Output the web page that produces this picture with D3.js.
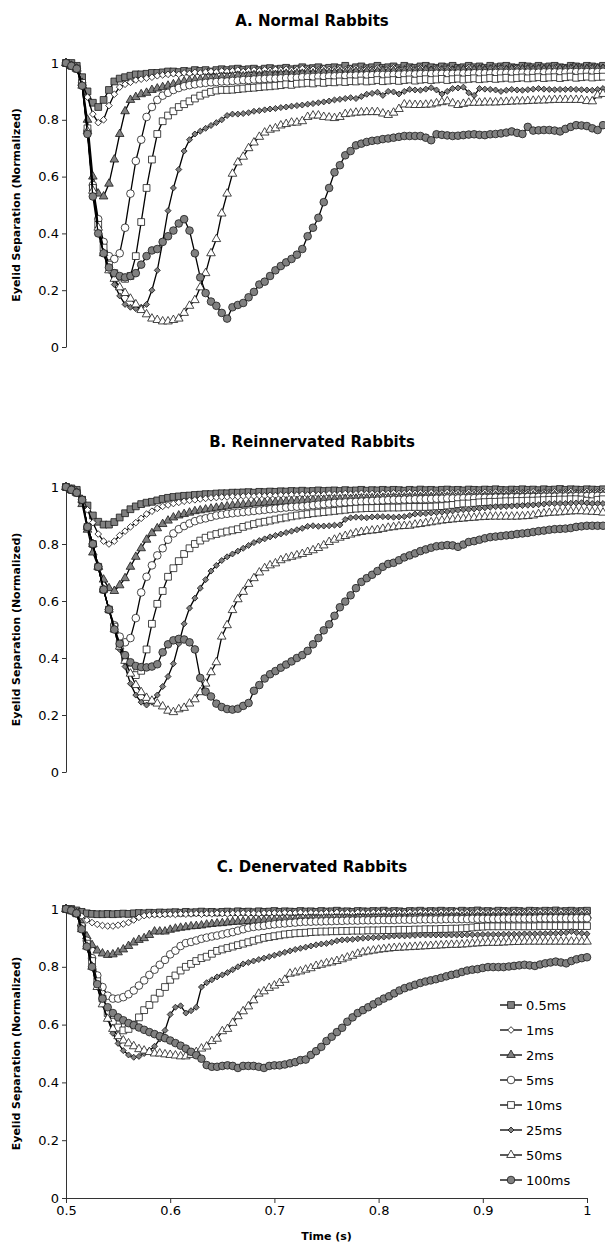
<!DOCTYPE html>
<html>
<head>
<meta charset="utf-8">
<script src="https://cdn.jsdelivr.net/npm/d3@7"></script>
<style>
  body { margin: 0; background: #fff; }
  text { font-family: Verdana, "DejaVu Sans", sans-serif; fill: #000; }
</style>
</head>
<body>
<div id="viz"></div>
<script>
// Chart size
const width = 605;
const height = 1251;

// Sampling: 0.5 s to 1.0 s, one point every 5 ms
const t0 = 0.5, dt = 0.005, nPts = 101;
const times = d3.range(nPts).map(i => t0 + i * dt);

const seriesNames = ["0.5ms", "1ms", "2ms", "5ms", "10ms", "25ms", "50ms", "100ms"];
const yTicks = [0, 0.2, 0.4, 0.6, 0.8, 1];
const xTicks = [0.5, 0.6, 0.7, 0.8, 0.9, 1];

// ---------- A. Normal Rabbits ----------
const a05 = [1.00,1.00,0.99,0.95,0.90,0.86,0.845,0.87,0.905,0.935,
  0.945,0.95,0.955,0.96,0.96,0.962,0.965,0.965,0.967,0.97,
  0.97,0.968,0.972,0.97,0.975,0.972,0.975,0.97,0.975,0.978,
  0.975,0.978,0.98,0.976,0.978,0.98,0.975,0.98,0.982,0.978,
  0.98,0.983,0.978,0.98,0.985,0.98,0.982,0.985,0.98,0.983,
  0.985,0.982,0.99,0.98,0.985,0.988,0.982,0.985,0.99,0.983,
  0.985,0.988,0.982,0.99,0.985,0.983,0.988,0.99,0.985,0.983,
  0.988,0.985,0.99,0.983,0.985,0.99,0.985,0.988,0.983,0.99,
  0.985,0.988,0.99,0.985,0.983,0.99,0.988,0.985,0.99,0.985,
  0.988,0.99,0.985,0.983,0.99,0.988,0.985,0.99,0.988,0.985,
  0.99];
const a1 = [1.00,0.99,0.98,0.93,0.88,0.82,0.79,0.80,0.85,0.89,
  0.915,0.925,0.932,0.94,0.943,0.947,0.95,0.955,0.958,0.96,
  0.962,0.96,0.965,0.963,0.967,0.965,0.968,0.97,0.968,0.972,
  0.97,0.972,0.975,0.97,0.973,0.975,0.972,0.976,0.974,0.977,
  0.975,0.978,0.974,0.977,0.98,0.976,0.978,0.975,0.98,0.977,
  0.978,0.98,0.976,0.979,0.982,0.977,0.98,0.978,0.982,0.979,
  0.98,0.983,0.978,0.98,0.982,0.979,0.983,0.98,0.978,0.982,
  0.98,0.983,0.979,0.982,0.98,0.984,0.98,0.982,0.979,0.983,
  0.981,0.984,0.98,0.982,0.985,0.98,0.983,0.981,0.984,0.98,
  0.983,0.985,0.98,0.982,0.985,0.981,0.984,0.982,0.985,0.983,
  0.985];
const a2 = [1.00,0.99,0.98,0.93,0.80,0.60,0.54,0.53,0.575,0.66,
  0.75,0.83,0.87,0.88,0.89,0.895,0.905,0.91,0.915,0.92,
  0.925,0.93,0.935,0.938,0.94,0.942,0.945,0.945,0.948,0.95,
  0.95,0.952,0.955,0.953,0.955,0.957,0.955,0.958,0.96,0.958,
  0.96,0.962,0.96,0.963,0.962,0.965,0.963,0.965,0.967,0.965,
  0.966,0.968,0.965,0.968,0.97,0.967,0.97,0.968,0.97,0.972,
  0.97,0.972,0.969,0.972,0.973,0.97,0.973,0.975,0.972,0.974,
  0.973,0.975,0.972,0.975,0.976,0.973,0.975,0.977,0.974,0.976,
  0.975,0.977,0.975,0.978,0.976,0.978,0.977,0.975,0.978,0.977,
  0.978,0.976,0.979,0.977,0.978,0.98,0.977,0.979,0.978,0.98,
  0.979];
const a5 = [1.00,0.99,0.98,0.93,0.76,0.57,0.45,0.37,0.32,0.31,
  0.33,0.42,0.54,0.655,0.73,0.81,0.845,0.87,0.885,0.895,
  0.905,0.912,0.918,0.922,0.925,0.928,0.93,0.932,0.933,0.935,
  0.935,0.937,0.938,0.94,0.94,0.942,0.943,0.944,0.945,0.945,
  0.946,0.947,0.948,0.948,0.95,0.95,0.951,0.952,0.952,0.953,
  0.953,0.954,0.955,0.955,0.956,0.956,0.957,0.957,0.958,0.958,
  0.958,0.959,0.959,0.96,0.96,0.96,0.961,0.961,0.961,0.962,
  0.962,0.962,0.962,0.963,0.963,0.963,0.964,0.964,0.964,0.964,
  0.965,0.965,0.965,0.965,0.966,0.966,0.966,0.966,0.966,0.967,
  0.967,0.967,0.967,0.967,0.968,0.968,0.968,0.968,0.968,0.968,
  0.969];
const a10 = [1.00,0.99,0.98,0.93,0.77,0.56,0.43,0.35,0.29,0.26,
  0.245,0.24,0.25,0.32,0.44,0.56,0.66,0.75,0.795,0.815,
  0.83,0.845,0.855,0.865,0.875,0.885,0.892,0.898,0.903,0.905,
  0.905,0.906,0.908,0.91,0.912,0.913,0.915,0.917,0.918,0.92,
  0.922,0.925,0.923,0.927,0.928,0.93,0.928,0.932,0.93,0.933,
  0.932,0.935,0.933,0.936,0.935,0.938,0.935,0.937,0.94,0.936,
  0.938,0.94,0.937,0.94,0.942,0.938,0.941,0.943,0.94,0.942,
  0.944,0.94,0.943,0.945,0.942,0.944,0.946,0.943,0.945,0.947,
  0.944,0.946,0.948,0.945,0.947,0.949,0.946,0.948,0.95,0.947,
  0.949,0.95,0.947,0.95,0.952,0.948,0.95,0.952,0.949,0.951,
  0.952];
const a25 = [1.00,0.99,0.98,0.92,0.76,0.55,0.42,0.33,0.27,0.22,
  0.18,0.15,0.14,0.135,0.14,0.15,0.20,0.27,0.37,0.48,
  0.56,0.625,0.69,0.73,0.75,0.76,0.77,0.78,0.79,0.80,
  0.815,0.82,0.82,0.822,0.825,0.83,0.832,0.835,0.838,0.84,
  0.843,0.845,0.848,0.85,0.852,0.855,0.857,0.86,0.863,0.866,
  0.87,0.872,0.875,0.878,0.875,0.882,0.89,0.893,0.897,0.886,
  0.90,0.898,0.891,0.90,0.907,0.905,0.904,0.908,0.913,0.905,
  0.891,0.90,0.91,0.912,0.915,0.895,0.886,0.91,0.908,0.907,
  0.905,0.90,0.904,0.907,0.905,0.904,0.906,0.908,0.91,0.908,
  0.907,0.906,0.907,0.907,0.908,0.907,0.906,0.905,0.904,0.907,
  0.91];
const a50 = [1.00,0.99,0.98,0.92,0.76,0.55,0.42,0.33,0.27,0.24,
  0.21,0.19,0.17,0.15,0.13,0.115,0.10,0.095,0.09,0.09,
  0.095,0.10,0.12,0.145,0.165,0.21,0.26,0.33,0.38,0.47,
  0.54,0.61,0.65,0.67,0.70,0.72,0.74,0.755,0.765,0.77,
  0.78,0.785,0.79,0.79,0.795,0.81,0.815,0.815,0.81,0.808,
  0.806,0.81,0.82,0.822,0.825,0.826,0.827,0.827,0.827,0.822,
  0.817,0.825,0.838,0.854,0.853,0.852,0.852,0.853,0.854,0.858,
  0.862,0.865,0.858,0.852,0.856,0.86,0.86,0.86,0.861,0.861,
  0.861,0.862,0.863,0.864,0.865,0.865,0.866,0.867,0.868,0.868,
  0.869,0.87,0.87,0.87,0.87,0.87,0.87,0.866,0.865,0.886,
  0.891];
const a100 = [1.00,0.99,0.98,0.92,0.75,0.53,0.40,0.33,0.28,0.26,
  0.25,0.245,0.25,0.26,0.29,0.32,0.34,0.345,0.37,0.39,
  0.41,0.435,0.45,0.41,0.33,0.245,0.19,0.16,0.145,0.12,
  0.10,0.14,0.148,0.155,0.175,0.194,0.22,0.23,0.25,0.27,
  0.285,0.298,0.31,0.325,0.345,0.39,0.42,0.455,0.51,0.56,
  0.615,0.64,0.675,0.69,0.71,0.716,0.722,0.726,0.728,0.732,
  0.734,0.737,0.74,0.743,0.743,0.743,0.743,0.737,0.728,0.749,
  0.747,0.745,0.743,0.744,0.746,0.748,0.749,0.747,0.746,0.749,
  0.75,0.752,0.755,0.759,0.754,0.75,0.775,0.762,0.763,0.764,
  0.764,0.762,0.759,0.768,0.775,0.781,0.78,0.778,0.77,0.764,
  0.781];

// ---------- B. Reinnervated Rabbits ----------
const b05 = [1.00,0.995,0.99,0.955,0.935,0.90,0.878,0.868,0.868,0.877,
  0.893,0.908,0.922,0.932,0.94,0.945,0.948,0.953,0.958,0.962,
  0.965,0.967,0.969,0.97,0.972,0.973,0.975,0.975,0.977,0.978,
  0.978,0.98,0.98,0.981,0.982,0.98,0.983,0.982,0.984,0.983,
  0.985,0.984,0.986,0.985,0.987,0.985,0.986,0.988,0.986,0.987,
  0.988,0.986,0.989,0.987,0.988,0.99,0.987,0.989,0.988,0.99,
  0.988,0.99,0.989,0.987,0.99,0.988,0.991,0.989,0.99,0.988,
  0.99,0.991,0.989,0.99,0.988,0.991,0.99,0.989,0.991,0.99,
  0.992,0.99,0.989,0.991,0.99,0.992,0.99,0.991,0.989,0.992,
  0.99,0.991,0.993,0.99,0.992,0.991,0.99,0.992,0.991,0.99,
  0.992];
const b1 = [1.00,0.99,0.98,0.96,0.92,0.875,0.835,0.81,0.80,0.81,
  0.83,0.845,0.86,0.875,0.89,0.905,0.915,0.925,0.932,0.937,
  0.942,0.946,0.95,0.953,0.955,0.958,0.96,0.962,0.963,0.965,
  0.965,0.967,0.966,0.968,0.969,0.968,0.97,0.969,0.971,0.97,
  0.972,0.971,0.973,0.972,0.974,0.972,0.975,0.973,0.974,0.976,
  0.974,0.975,0.977,0.975,0.976,0.978,0.976,0.977,0.975,0.978,
  0.977,0.979,0.977,0.978,0.98,0.978,0.979,0.977,0.98,0.978,
  0.979,0.981,0.979,0.98,0.978,0.981,0.98,0.979,0.981,0.98,
  0.982,0.98,0.981,0.979,0.982,0.98,0.981,0.983,0.98,0.982,
  0.981,0.983,0.98,0.982,0.984,0.981,0.982,0.984,0.982,0.983,
  0.984];
const b2 = [1.00,0.99,0.98,0.94,0.85,0.77,0.72,0.675,0.645,0.635,
  0.655,0.68,0.72,0.755,0.785,0.815,0.838,0.855,0.87,0.882,
  0.893,0.90,0.905,0.91,0.915,0.918,0.921,0.924,0.927,0.93,
  0.932,0.935,0.937,0.938,0.94,0.942,0.943,0.945,0.946,0.947,
  0.948,0.949,0.95,0.951,0.952,0.953,0.954,0.955,0.955,0.956,
  0.957,0.957,0.958,0.958,0.959,0.96,0.96,0.961,0.961,0.962,
  0.962,0.963,0.963,0.963,0.964,0.964,0.965,0.965,0.965,0.966,
  0.966,0.966,0.967,0.967,0.967,0.968,0.968,0.968,0.968,0.969,
  0.969,0.969,0.969,0.97,0.97,0.97,0.97,0.97,0.971,0.971,
  0.971,0.971,0.971,0.972,0.972,0.972,0.972,0.972,0.972,0.973,
  0.973];
const b5 = [1.00,0.99,0.98,0.955,0.86,0.80,0.72,0.64,0.57,0.515,
  0.475,0.455,0.47,0.54,0.63,0.685,0.725,0.76,0.785,0.815,
  0.837,0.852,0.863,0.872,0.88,0.886,0.89,0.895,0.90,0.903,
  0.906,0.908,0.91,0.912,0.914,0.916,0.918,0.92,0.922,0.924,
  0.926,0.928,0.93,0.931,0.932,0.934,0.936,0.938,0.94,0.942,
  0.944,0.945,0.946,0.947,0.948,0.949,0.95,0.951,0.952,0.953,
  0.954,0.955,0.955,0.956,0.956,0.957,0.957,0.958,0.958,0.959,
  0.959,0.96,0.96,0.96,0.961,0.961,0.961,0.962,0.962,0.962,
  0.963,0.963,0.963,0.964,0.964,0.964,0.965,0.965,0.965,0.966,
  0.966,0.966,0.967,0.967,0.967,0.968,0.968,0.968,0.969,0.969,
  0.969];
const b10 = [1.00,0.99,0.98,0.955,0.86,0.80,0.72,0.64,0.57,0.51,
  0.45,0.40,0.36,0.34,0.355,0.43,0.52,0.59,0.635,0.685,
  0.715,0.74,0.765,0.785,0.80,0.812,0.822,0.83,0.835,0.84,
  0.844,0.848,0.852,0.86,0.865,0.87,0.875,0.878,0.882,0.886,
  0.89,0.893,0.897,0.90,0.903,0.905,0.908,0.91,0.912,0.914,
  0.916,0.918,0.92,0.922,0.924,0.925,0.926,0.926,0.927,0.927,
  0.928,0.928,0.928,0.929,0.93,0.93,0.93,0.93,0.931,0.932,
  0.933,0.935,0.937,0.94,0.942,0.942,0.944,0.946,0.947,0.948,
  0.948,0.949,0.95,0.95,0.951,0.951,0.952,0.952,0.953,0.954,
  0.955,0.955,0.956,0.956,0.957,0.957,0.956,0.952,0.95,0.955,
  0.957];
const b25 = [1.00,0.99,0.98,0.955,0.86,0.80,0.72,0.64,0.57,0.50,
  0.43,0.37,0.31,0.27,0.245,0.235,0.245,0.27,0.30,0.335,
  0.38,0.45,0.52,0.575,0.61,0.645,0.675,0.705,0.725,0.742,
  0.755,0.765,0.775,0.785,0.795,0.805,0.812,0.818,0.825,0.83,
  0.835,0.84,0.845,0.85,0.855,0.862,0.864,0.862,0.863,0.864,
  0.866,0.867,0.886,0.892,0.894,0.893,0.892,0.895,0.896,0.896,
  0.895,0.894,0.895,0.896,0.90,0.905,0.906,0.907,0.909,0.91,
  0.912,0.913,0.916,0.918,0.92,0.921,0.923,0.925,0.927,0.929,
  0.931,0.931,0.932,0.933,0.934,0.935,0.936,0.937,0.938,0.94,
  0.942,0.942,0.942,0.942,0.943,0.944,0.945,0.944,0.942,0.942,
  0.942];
const b50 = [1.00,0.99,0.98,0.955,0.86,0.80,0.72,0.64,0.57,0.50,
  0.44,0.39,0.345,0.305,0.28,0.26,0.25,0.24,0.23,0.215,
  0.21,0.22,0.225,0.24,0.255,0.28,0.31,0.35,0.385,0.475,
  0.515,0.568,0.606,0.632,0.66,0.68,0.70,0.715,0.725,0.732,
  0.743,0.75,0.755,0.76,0.765,0.772,0.778,0.786,0.795,0.807,
  0.815,0.822,0.828,0.833,0.838,0.842,0.845,0.847,0.849,0.853,
  0.857,0.859,0.862,0.863,0.864,0.868,0.87,0.873,0.876,0.879,
  0.882,0.884,0.886,0.888,0.889,0.891,0.892,0.894,0.895,0.896,
  0.896,0.896,0.896,0.896,0.896,0.897,0.898,0.90,0.905,0.907,
  0.909,0.91,0.911,0.913,0.914,0.915,0.915,0.914,0.913,0.912,
  0.91];
const b100 = [1.00,0.99,0.98,0.955,0.86,0.80,0.72,0.64,0.57,0.50,
  0.45,0.41,0.385,0.372,0.368,0.367,0.37,0.378,0.42,0.448,
  0.462,0.467,0.465,0.455,0.43,0.33,0.282,0.265,0.24,0.228,
  0.221,0.219,0.222,0.232,0.242,0.285,0.305,0.328,0.343,0.354,
  0.366,0.377,0.388,0.40,0.41,0.425,0.448,0.47,0.497,0.518,
  0.548,0.578,0.598,0.62,0.645,0.667,0.68,0.692,0.705,0.72,
  0.73,0.734,0.743,0.753,0.76,0.767,0.775,0.781,0.787,0.792,
  0.794,0.796,0.795,0.79,0.798,0.807,0.81,0.815,0.82,0.824,
  0.826,0.828,0.83,0.832,0.835,0.837,0.839,0.842,0.845,0.847,
  0.85,0.852,0.853,0.854,0.856,0.86,0.862,0.864,0.864,0.864,
  0.864];

// ---------- C. Denervated Rabbits ----------
const c05 = [1.00,1.00,0.995,0.99,0.985,0.983,0.982,0.982,0.983,0.982,
  0.983,0.984,0.983,0.985,0.986,0.985,0.987,0.986,0.988,0.987,
  0.988,0.989,0.987,0.99,0.988,0.989,0.991,0.989,0.99,0.988,
  0.99,0.991,0.989,0.992,0.99,0.991,0.989,0.992,0.99,0.991,
  0.993,0.99,0.992,0.991,0.99,0.993,0.991,0.992,0.99,0.993,
  0.991,0.992,0.994,0.991,0.992,0.99,0.993,0.992,0.991,0.993,
  0.992,0.994,0.991,0.993,0.992,0.99,0.993,0.992,0.994,0.991,
  0.993,0.992,0.994,0.992,0.993,0.991,0.994,0.992,0.993,0.995,
  0.992,0.993,0.991,0.994,0.993,0.992,0.994,0.993,0.991,0.994,
  0.993,0.992,0.994,0.993,0.995,0.992,0.993,0.994,0.992,0.993,
  0.994];
const c1 = [1.00,0.995,0.99,0.975,0.962,0.953,0.947,0.943,0.941,0.941,
  0.944,0.948,0.953,0.962,0.971,0.977,0.979,0.98,0.98,0.981,
  0.982,0.981,0.983,0.982,0.983,0.984,0.982,0.984,0.983,0.985,
  0.984,0.983,0.985,0.984,0.986,0.984,0.985,0.983,0.986,0.985,
  0.986,0.984,0.987,0.985,0.986,0.988,0.985,0.987,0.986,0.985,
  0.987,0.986,0.988,0.986,0.987,0.985,0.988,0.987,0.986,0.988,
  0.987,0.989,0.986,0.988,0.987,0.986,0.988,0.987,0.989,0.987,
  0.988,0.986,0.989,0.987,0.988,0.99,0.987,0.988,0.986,0.989,
  0.988,0.987,0.989,0.988,0.99,0.987,0.989,0.988,0.987,0.989,
  0.988,0.99,0.988,0.989,0.987,0.99,0.988,0.989,0.987,0.99,
  0.989];
const c2 = [1.00,0.995,0.985,0.95,0.905,0.875,0.856,0.846,0.841,0.843,
  0.85,0.86,0.872,0.884,0.893,0.899,0.91,0.922,0.922,0.922,
  0.928,0.932,0.935,0.937,0.94,0.941,0.943,0.946,0.948,0.95,
  0.951,0.953,0.955,0.956,0.957,0.958,0.959,0.96,0.961,0.962,
  0.962,0.963,0.963,0.964,0.964,0.965,0.965,0.966,0.966,0.966,
  0.967,0.967,0.967,0.968,0.968,0.968,0.969,0.969,0.969,0.97,
  0.97,0.97,0.97,0.971,0.971,0.971,0.971,0.972,0.972,0.972,
  0.972,0.972,0.973,0.973,0.973,0.973,0.973,0.974,0.974,0.974,
  0.974,0.974,0.974,0.975,0.975,0.975,0.975,0.975,0.975,0.976,
  0.976,0.976,0.976,0.976,0.976,0.976,0.977,0.977,0.977,0.977,
  0.977];
const c5 = [1.00,0.995,0.985,0.94,0.89,0.83,0.77,0.73,0.70,0.69,
  0.69,0.695,0.705,0.718,0.735,0.753,0.772,0.79,0.807,0.824,
  0.843,0.856,0.872,0.882,0.886,0.891,0.897,0.901,0.905,0.908,
  0.912,0.916,0.92,0.925,0.93,0.935,0.938,0.94,0.942,0.945,
  0.947,0.949,0.95,0.952,0.953,0.955,0.956,0.956,0.957,0.957,
  0.958,0.958,0.959,0.959,0.96,0.96,0.96,0.961,0.961,0.961,
  0.962,0.962,0.962,0.962,0.963,0.963,0.963,0.963,0.964,0.964,
  0.964,0.964,0.964,0.965,0.965,0.965,0.965,0.965,0.966,0.966,
  0.966,0.966,0.966,0.966,0.967,0.967,0.967,0.967,0.967,0.967,
  0.967,0.968,0.968,0.968,0.968,0.968,0.968,0.968,0.968,0.968,
  0.968];
const c10 = [1.00,0.995,0.985,0.94,0.88,0.82,0.75,0.69,0.64,0.61,
  0.59,0.58,0.585,0.60,0.625,0.65,0.668,0.69,0.71,0.73,
  0.755,0.77,0.787,0.80,0.81,0.82,0.83,0.835,0.845,0.855,
  0.86,0.865,0.87,0.875,0.88,0.885,0.89,0.895,0.90,0.903,
  0.906,0.909,0.912,0.914,0.916,0.917,0.918,0.92,0.921,0.922,
  0.922,0.923,0.923,0.924,0.924,0.925,0.925,0.925,0.926,0.926,
  0.926,0.927,0.927,0.927,0.928,0.928,0.928,0.929,0.929,0.93,
  0.93,0.93,0.931,0.931,0.932,0.932,0.933,0.934,0.936,0.938,
  0.939,0.94,0.94,0.94,0.94,0.94,0.94,0.94,0.94,0.94,
  0.94,0.941,0.941,0.941,0.941,0.941,0.941,0.941,0.941,0.941,
  0.941];
const c25 = [1.00,0.995,0.985,0.93,0.87,0.80,0.73,0.67,0.62,0.57,
  0.535,0.51,0.495,0.487,0.49,0.50,0.51,0.525,0.55,0.58,
  0.635,0.66,0.665,0.64,0.648,0.66,0.73,0.745,0.755,0.765,
  0.772,0.78,0.79,0.80,0.81,0.815,0.82,0.825,0.83,0.835,
  0.84,0.845,0.85,0.855,0.86,0.864,0.868,0.872,0.876,0.879,
  0.881,0.885,0.89,0.893,0.894,0.895,0.897,0.899,0.90,0.901,
  0.902,0.903,0.905,0.907,0.907,0.907,0.908,0.909,0.91,0.91,
  0.91,0.91,0.91,0.91,0.91,0.91,0.91,0.911,0.911,0.911,
  0.912,0.912,0.912,0.912,0.913,0.913,0.913,0.913,0.914,0.914,
  0.914,0.915,0.915,0.916,0.916,0.917,0.918,0.922,0.918,0.916,
  0.914];
const c50 = [1.00,0.995,0.985,0.93,0.87,0.80,0.73,0.67,0.62,0.585,
  0.56,0.545,0.535,0.525,0.515,0.51,0.505,0.50,0.50,0.497,
  0.495,0.493,0.49,0.49,0.495,0.505,0.517,0.524,0.543,0.551,
  0.577,0.585,0.606,0.629,0.646,0.663,0.684,0.707,0.715,0.727,
  0.735,0.744,0.755,0.776,0.78,0.784,0.79,0.795,0.803,0.807,
  0.812,0.815,0.82,0.826,0.832,0.838,0.845,0.85,0.853,0.856,
  0.859,0.861,0.863,0.865,0.866,0.867,0.868,0.869,0.87,0.871,
  0.872,0.873,0.874,0.875,0.876,0.876,0.877,0.878,0.88,0.881,
  0.882,0.883,0.883,0.883,0.884,0.885,0.886,0.886,0.887,0.887,
  0.887,0.887,0.887,0.887,0.887,0.887,0.887,0.887,0.887,0.887,
  0.887];
const c100 = [1.00,0.995,0.985,0.93,0.87,0.80,0.74,0.69,0.66,0.64,
  0.625,0.615,0.605,0.598,0.59,0.582,0.574,0.567,0.56,0.553,
  0.545,0.536,0.527,0.517,0.506,0.494,0.482,0.46,0.454,0.454,
  0.457,0.459,0.457,0.45,0.457,0.457,0.457,0.454,0.45,0.457,
  0.459,0.459,0.462,0.466,0.47,0.477,0.479,0.495,0.508,0.523,
  0.543,0.558,0.574,0.589,0.61,0.625,0.64,0.65,0.66,0.67,
  0.68,0.69,0.698,0.708,0.718,0.726,0.732,0.738,0.744,0.749,
  0.753,0.757,0.762,0.767,0.772,0.776,0.782,0.787,0.79,0.792,
  0.796,0.799,0.799,0.799,0.799,0.801,0.803,0.805,0.807,0.805,
  0.803,0.808,0.812,0.815,0.818,0.815,0.812,0.82,0.826,0.83,
  0.833];

// Marker style of each series (same order as seriesNames)
const markerStyle = [
  { shape: "square",   fill: "#808080", size: 46 },
  { shape: "diamond",  fill: "#ffffff", size: 22 },
  { shape: "triangle", fill: "#808080", size: 32 },
  { shape: "circle",   fill: "#ffffff", size: 46 },
  { shape: "square",   fill: "#ffffff", size: 46 },
  { shape: "diamond",  fill: "#808080", size: 18 },
  { shape: "triangle", fill: "#ffffff", size: 32 },
  { shape: "circle",   fill: "#808080", size: 46 }
];

const panels = [
  { title: "A. Normal Rabbits", titleY: 26, top: 63, bottom: 347, right: 603,
    series: [a05, a1, a2, a5, a10, a25, a50, a100], xAxis: false, legend: false },
  { title: "B. Reinnervated Rabbits", titleY: 447, top: 487, bottom: 772, right: 603,
    series: [b05, b1, b2, b5, b10, b25, b50, b100], xAxis: false, legend: false },
  { title: "C. Denervated Rabbits", titleY: 872, top: 909, bottom: 1198, right: 587,
    series: [c05, c1, c2, c5, c10, c25, c50, c100], xAxis: true, legend: true }
];

const left = 66;

const svg = d3.select("#viz")
  .append("svg")
  .attr("width", width)
  .attr("height", height)
  .style("background", "#fff");

function symbolPath(style) {
  const type = style.shape === "square" || style.shape === "diamond" ? d3.symbolSquare
    : style.shape === "triangle" ? d3.symbolTriangle : d3.symbolCircle;
  return d3.symbol().type(type).size(style.size)();
}

function drawMarker(g, style, x, y) {
  g.append("path")
    .attr("d", symbolPath(style))
    .attr("transform", `translate(${x},${y})` + (style.shape === "diamond" ? " rotate(45)" : ""))
    .attr("fill", style.fill)
    .attr("stroke", "#1a1a1a")
    .attr("stroke-width", 0.8);
}

panels.forEach(p => {
  const x = d3.scaleLinear().domain([0.5, 1]).range([left, p.right]);
  const y = d3.scaleLinear().domain([0, 1]).range([p.bottom, p.top]);

  // Title
  svg.append("text")
    .attr("x", 312)
    .attr("y", p.titleY)
    .attr("text-anchor", "middle")
    .attr("font-size", 15)
    .attr("font-weight", "bold")
    .text(p.title);

  // Y axis
  const yAxis = svg.append("g")
    .attr("transform", `translate(${left},0)`)
    .call(d3.axisLeft(y).tickValues(yTicks).tickSize(4).tickSizeOuter(0)
      .tickFormat(d => d === 0 || d === 1 ? String(d) : d.toFixed(1)));
  yAxis.selectAll("text").attr("font-size", 13).attr("font-family", "Verdana, 'DejaVu Sans', sans-serif");
  yAxis.selectAll("path, line").attr("stroke", "#333");

  svg.append("text")
    .attr("transform", `translate(20,${(p.top + p.bottom) / 2}) rotate(-90)`)
    .attr("text-anchor", "middle")
    .attr("font-size", 11)
    .attr("font-weight", "bold")
    .text("Eyelid Separation (Normalized)");

  // X axis (bottom panel only)
  if (p.xAxis) {
    const xAxis = svg.append("g")
      .attr("transform", `translate(0,${p.bottom})`)
      .call(d3.axisBottom(x).tickValues(xTicks).tickSize(5).tickSizeOuter(0)
        .tickFormat(d => d === 1 ? "1" : d.toFixed(1)));
    xAxis.selectAll("text").attr("font-size", 13).attr("font-family", "Verdana, 'DejaVu Sans', sans-serif");
    xAxis.selectAll("path, line").attr("stroke", "#333");

    svg.append("text")
      .attr("x", (left + p.right) / 2)
      .attr("y", p.bottom + 42)
      .attr("text-anchor", "middle")
      .attr("font-size", 11)
      .attr("font-weight", "bold")
      .text("Time (s)");
  }

  // Series
  const line = d3.line()
    .x((d, i) => x(times[i]))
    .y(d => y(d));

  p.series.forEach((vals, si) => {
    const g = svg.append("g").attr("class", "series");
    g.append("path")
      .datum(vals)
      .attr("d", line)
      .attr("fill", "none")
      .attr("stroke", "#000")
      .attr("stroke-width", 1.3);
    vals.forEach((v, i) => drawMarker(g, markerStyle[si], x(times[i]), y(v)));
  });

  // Legend
  if (p.legend) {
    const lg = svg.append("g").attr("transform", "translate(500,1005)");
    seriesNames.forEach((name, k) => {
      const row = lg.append("g").attr("transform", `translate(0,${k * 25})`);
      row.append("line")
        .attr("x1", 0).attr("x2", 22)
        .attr("stroke", "#000").attr("stroke-width", 1.3);
      drawMarker(row, markerStyle[k], 11, 0);
      row.append("text")
        .attr("x", 26)
        .attr("y", 0)
        .attr("dy", "0.35em")
        .attr("font-size", 13)
        .text(name);
    });
  }
});
</script>
</body>
</html>
